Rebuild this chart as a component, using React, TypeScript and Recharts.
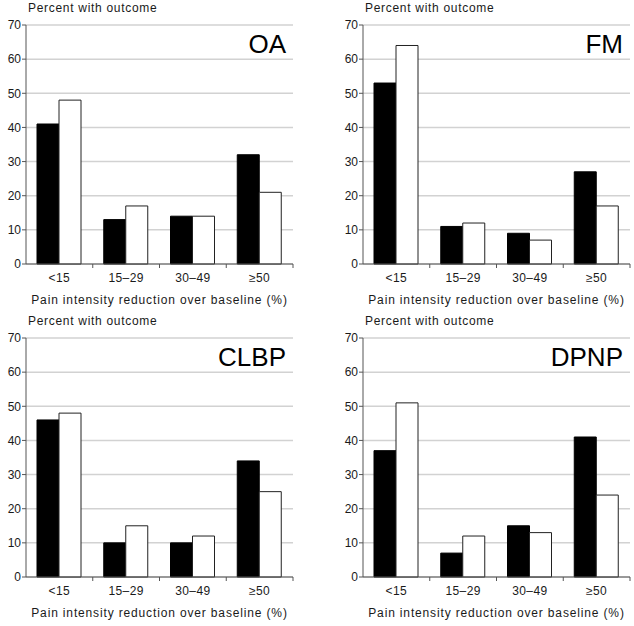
import React from "react";
import { BarChart, Bar, XAxis, YAxis, CartesianGrid } from "recharts";

const categories = ["<15", "15\u201329", "30\u201349", "\u226550"];
const yTicks = [0, 10, 20, 30, 40, 50, 60, 70];

const oaBlack = [41, 13, 14, 32];
const oaWhite = [48, 17, 14, 21];
const fmBlack = [53, 11, 9, 27];
const fmWhite = [64, 12, 7, 17];
const clbpBlack = [46, 10, 10, 34];
const clbpWhite = [48, 15, 12, 25];
const dpnpBlack = [37, 7, 15, 41];
const dpnpWhite = [51, 12, 13, 24];

const yLabel = "Percent with outcome";
const xLabel = "Pain intensity reduction over baseline (%)";

const FONT = "'Liberation Sans', Arial, Helvetica, sans-serif";
const TEXT = "#1a1a1a";

function build(black: number[], white: number[]) {
  return categories.map((c, i) => ({ cat: c, a: black[i], b: white[i] }));
}

const XTick = (props: any) => {
  const { x, y, payload, bandHalf } = props;
  const off = bandHalf;
  return (
    <g>
      <line x1={x + off} y1={y} x2={x + off} y2={y + 4} stroke="#555" strokeWidth={1} />
      <text
        x={x}
        y={y + 18}
        textAnchor="middle"
        fill={TEXT}
        fontSize={12}
        fontFamily={FONT}
        letterSpacing={0.4}
      >
        {payload.value}
      </text>
    </g>
  );
};

type PanelProps = {
  title: string;
  black: number[];
  white: number[];
  left: number;
  top: number;
  width: number;
  rightMargin: number;
};

function Panel({ title, black, white, left, top, width, rightMargin }: PanelProps) {
  const data = build(black, white);
  const plotLeft = 26;
  const plotRight = width - rightMargin;
  const bandHalf = (plotRight - plotLeft) / categories.length / 2;
  return (
    <div style={{ position: "absolute", left, top, width, height: 313 }}>
      <BarChart
        width={width}
        height={313}
        data={data}
        margin={{ top: 25, right: rightMargin, left: 0, bottom: 0 }}
        barGap={0}
        barSize={22}
      >
        <CartesianGrid vertical={false} stroke="#d2d2d2" strokeWidth={1.5} />
        <XAxis
          dataKey="cat"
          tickLine={false}
          tickSize={0}
          tickMargin={0}
          axisLine={{ stroke: "#555", strokeWidth: 1 }}
          tick={<XTick bandHalf={bandHalf} />}
          interval={0}
          height={49}
        />
        <YAxis
          width={26}
          domain={[0, 70]}
          ticks={yTicks}
          interval={0}
          tickSize={4}
          tickMargin={1}
          axisLine={{ stroke: "#555", strokeWidth: 1 }}
          tickLine={{ stroke: "#555" }}
          tick={{ fill: TEXT, fontSize: 12, fontFamily: FONT }}
        />
        <Bar dataKey="a" fill="#000" stroke="#000" strokeWidth={1} isAnimationActive={false} />
        <Bar dataKey="b" fill="#fff" stroke="#222" strokeWidth={1} isAnimationActive={false} />
      </BarChart>
      <div
        style={{
          position: "absolute",
          left: plotLeft + 2,
          top: 1,
          fontFamily: FONT,
          fontSize: 12,
          letterSpacing: 0.7,
          color: TEXT,
          whiteSpace: "nowrap",
        }}
      >
        {yLabel}
      </div>
      <div
        style={{
          position: "absolute",
          left: plotLeft - 10,
          width: plotRight - plotLeft + 20,
          top: 293,
          textAlign: "center",
          fontFamily: FONT,
          fontSize: 12,
          letterSpacing: 0.85,
          color: TEXT,
          whiteSpace: "nowrap",
        }}
      >
        {xLabel}
      </div>
      <div
        style={{
          position: "absolute",
          right: width - plotRight + 7,
          top: 29,
          fontFamily: FONT,
          fontSize: 26,
          lineHeight: "30px",
          color: "#000",
          whiteSpace: "nowrap",
        }}
      >
        {title}
      </div>
    </div>
  );
}

export default function App() {
  return (
    <div style={{ position: "absolute", left: 0, top: 0, width: 634, height: 626, background: "#fff", overflow: "hidden" }}>
      <Panel title="OA" black={oaBlack} white={oaWhite} left={0} top={0} width={317} rightMargin={24} />
      <Panel title="FM" black={fmBlack} white={fmWhite} left={337} top={0} width={297} rightMargin={4} />
      <Panel title="CLBP" black={clbpBlack} white={clbpWhite} left={0} top={313} width={317} rightMargin={24} />
      <Panel title="DPNP" black={dpnpBlack} white={dpnpWhite} left={337} top={313} width={297} rightMargin={4} />
    </div>
  );
}
